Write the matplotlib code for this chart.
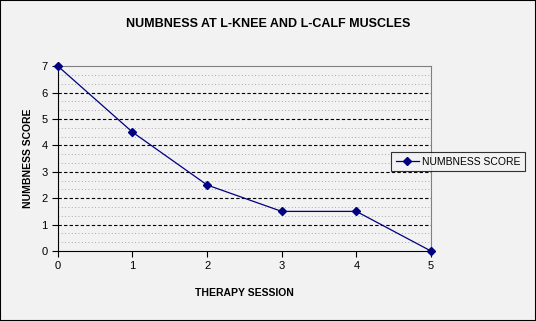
import matplotlib
matplotlib.use("Agg")
import matplotlib.pyplot as plt
import numpy as np
from matplotlib.patches import Rectangle

sessions = [0, 1, 2, 3, 4, 5]
scores = [7, 4.5, 2.5, 1.5, 1.5, 0]

plt.rcParams['font.family'] = ['Liberation Sans', 'DejaVu Sans']

fig = plt.figure(figsize=(5.36, 3.21), dpi=100, facecolor='#f2f2f2')
fig.patches.append(Rectangle((0, 0), 1, 1, transform=fig.transFigure,
                             fill=False, edgecolor='black', linewidth=1.5))
ax = fig.add_axes([0.108, 0.218, 0.696, 0.576])
ax.set_facecolor('#f2f2f2')

# dotted background rows of the plot area
for yv in np.arange(0, 7, 1 / 3.0):
    if abs(yv - round(yv)) > 0.01:
        ax.axhline(yv, color='#909090', linestyle=(0, (1, 3)), linewidth=0.6, zorder=0)

for yv in range(1, 7):
    ax.axhline(yv, color='black', linestyle=(0, (3, 2)), linewidth=0.8, zorder=1)

ax.plot(sessions, scores, color='#000080', linewidth=0.9, marker='D',
        markersize=4, label='NUMBNESS SCORE', zorder=3, clip_on=False)

ax.set_xlim(0, 5)
ax.set_ylim(0, 7)
ax.set_xticks(sessions)
ax.set_yticks(range(0, 8))
ax.tick_params(labelsize=8, length=4, direction='out', colors='black')

for s in ['top', 'right']:
    ax.spines[s].set_color('#808080')
for s in ['left', 'bottom']:
    ax.spines[s].set_color('black')

ax.set_xlabel('THERAPY SESSION', fontsize=7.5, fontweight='bold', labelpad=12)
ax.set_ylabel('NUMBNESS SCORE', fontsize=7.5, fontweight='bold', labelpad=6)
fig.text(0.5, 0.925, 'NUMBNESS AT L-KNEE AND L-CALF MUSCLES', ha='center',
         va='center', fontsize=9, fontweight='bold')

leg = fig.legend(loc='center left', bbox_to_anchor=(0.73, 0.496), fontsize=7.5,
                 frameon=True, fancybox=False, edgecolor='black',
                 facecolor='#f2f2f2', handlelength=2.2, handletextpad=0.3,
                 borderpad=0.45, borderaxespad=0)
leg.get_frame().set_linewidth(0.8)

fig.savefig('out.png', dpi=100, facecolor=fig.get_facecolor())
